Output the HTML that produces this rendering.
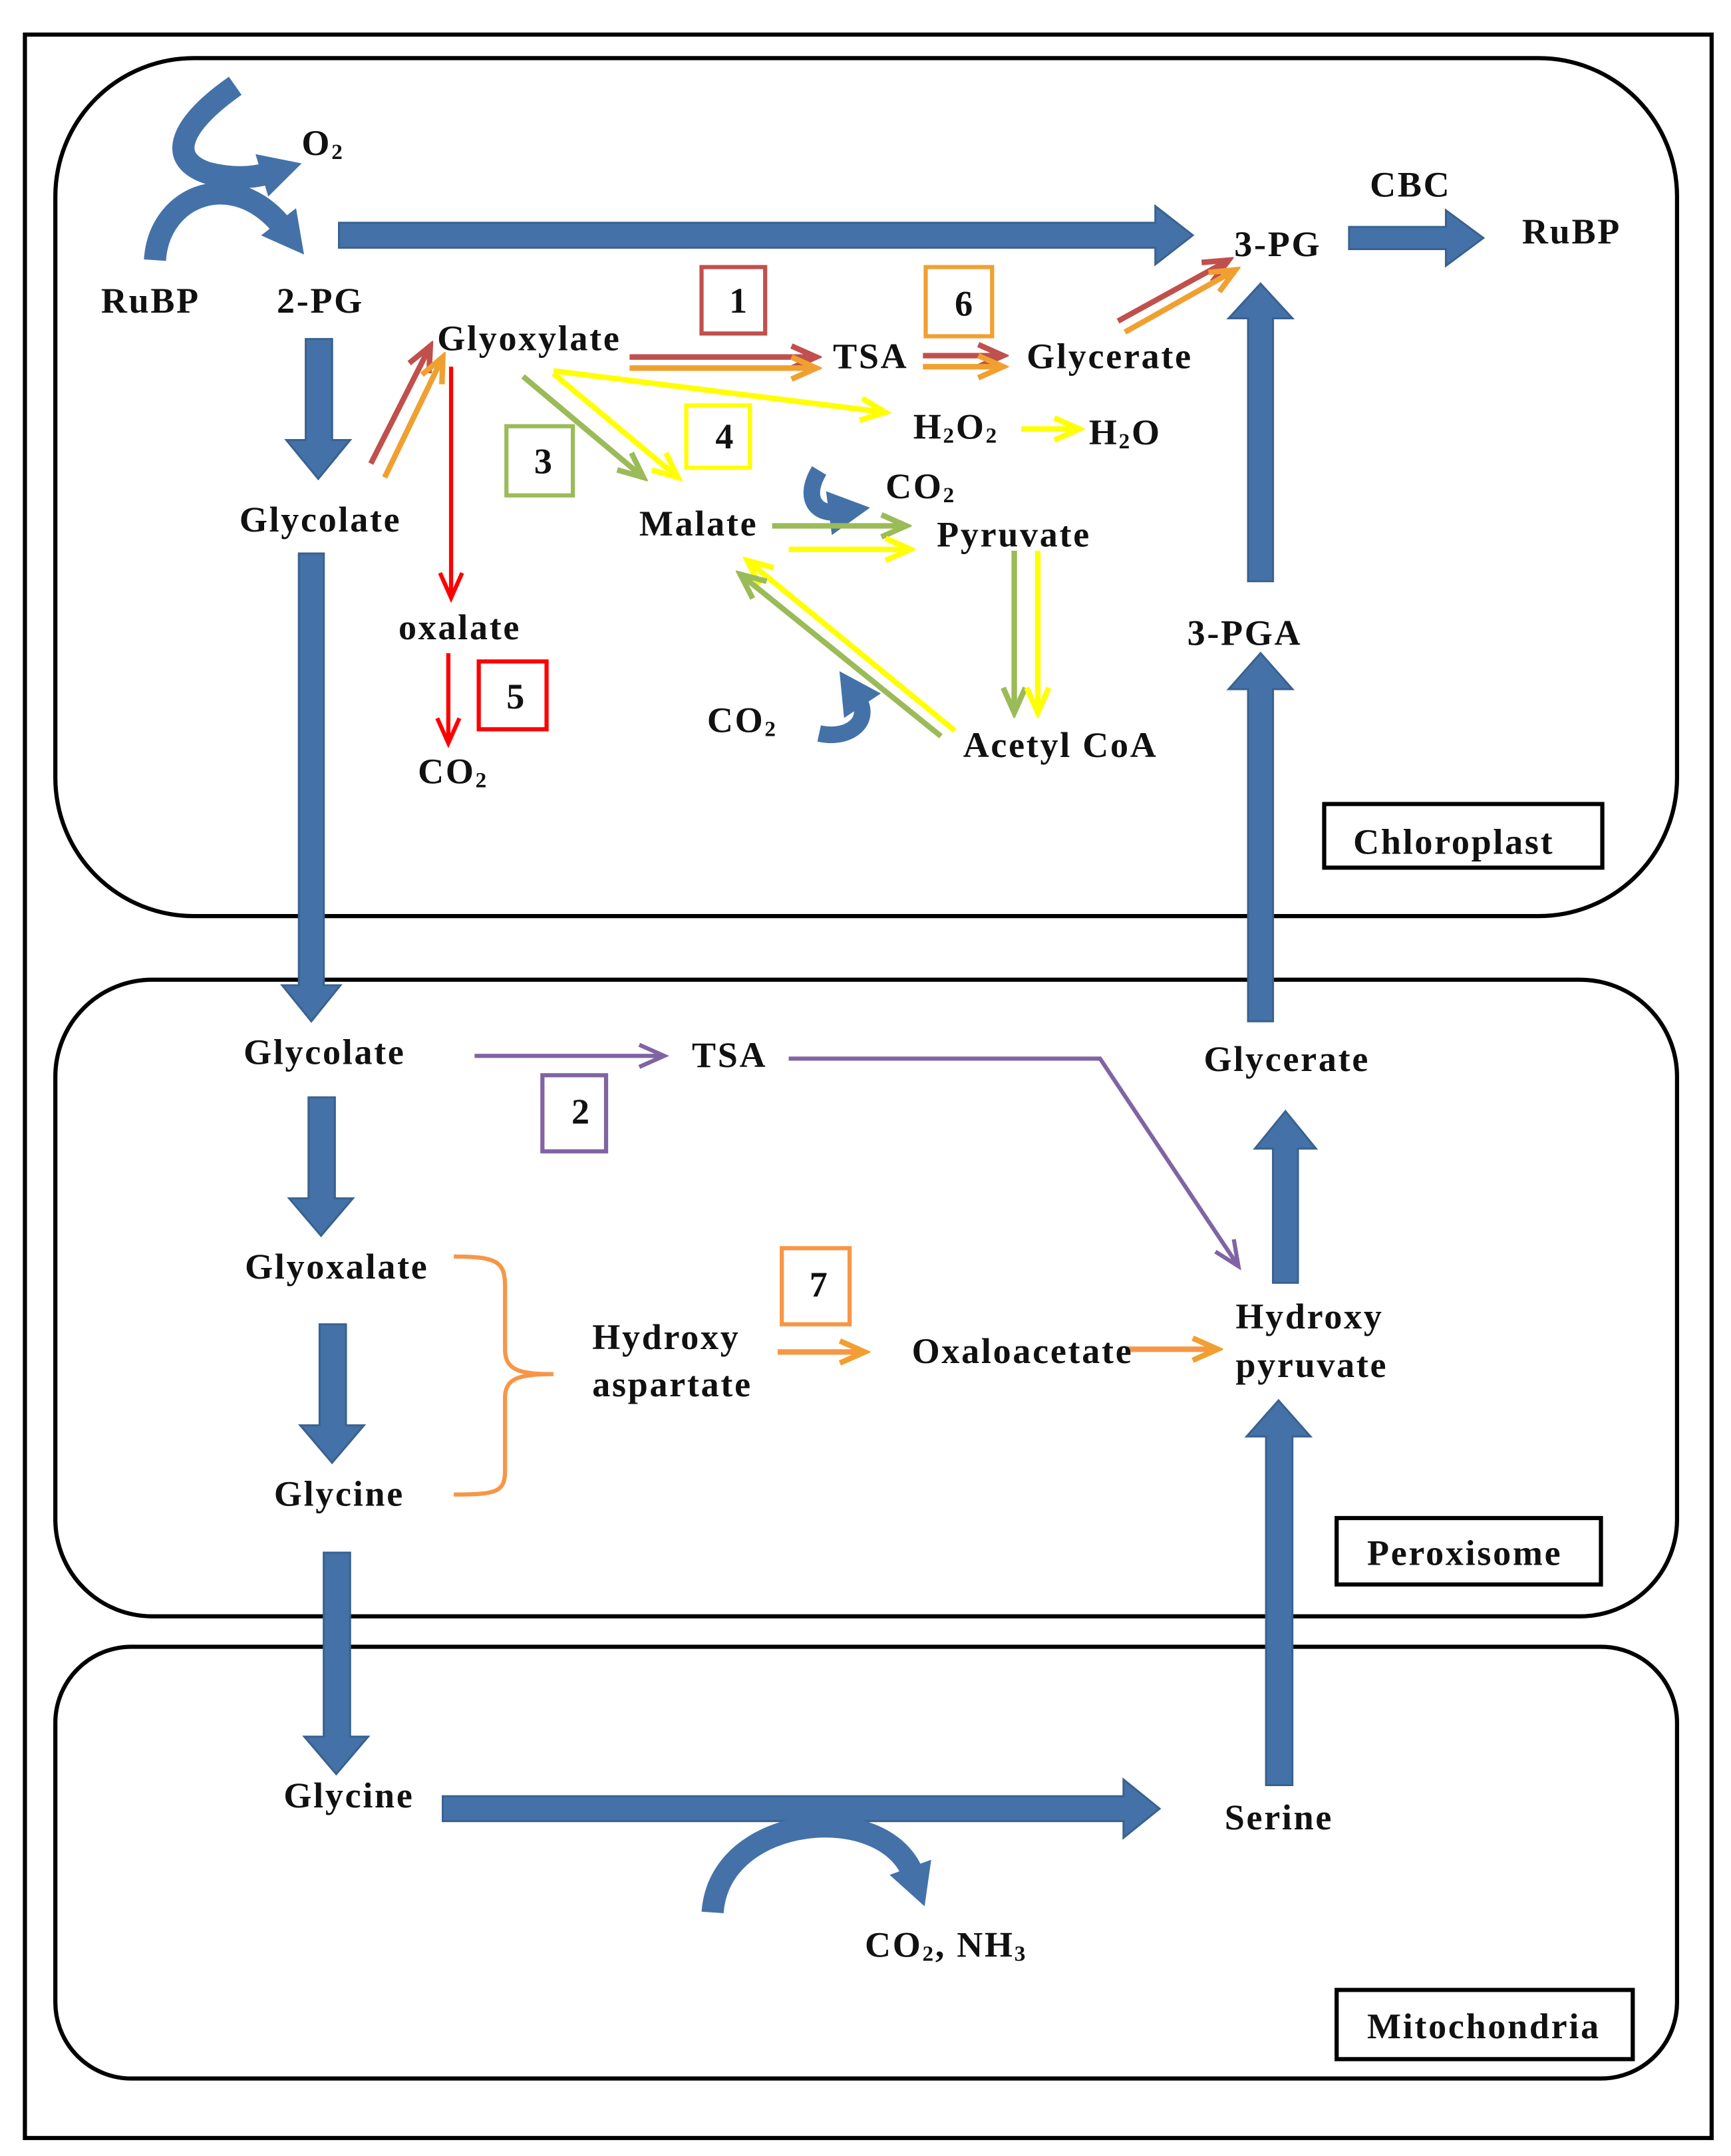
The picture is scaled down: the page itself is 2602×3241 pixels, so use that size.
<!DOCTYPE html>
<html><head><meta charset="utf-8"><style>
html,body{margin:0;padding:0;background:#fff;}
svg{display:block;}
text{font-family:"Liberation Serif",serif;font-weight:bold;font-size:26px;letter-spacing:1.3px;fill:#111;}
</style></head><body>
<svg width="2602" height="3241" viewBox="0 0 1251 1558" preserveAspectRatio="none" xmlns="http://www.w3.org/2000/svg">
<defs>
<marker id="mbr" markerUnits="userSpaceOnUse" markerWidth="24" markerHeight="20" refX="20" refY="10" orient="auto"><path d="M2,2 L20,10 L2,18" fill="none" stroke="#c0504d" stroke-width="4"/></marker>
<marker id="mor" markerUnits="userSpaceOnUse" markerWidth="24" markerHeight="20" refX="20" refY="10" orient="auto"><path d="M2,2 L20,10 L2,18" fill="none" stroke="#f0a030" stroke-width="4"/></marker>
<marker id="myl" markerUnits="userSpaceOnUse" markerWidth="24" markerHeight="20" refX="20" refY="10" orient="auto"><path d="M2,2 L20,10 L2,18" fill="none" stroke="#ffff00" stroke-width="4"/></marker>
<marker id="mgr" markerUnits="userSpaceOnUse" markerWidth="24" markerHeight="20" refX="20" refY="10" orient="auto"><path d="M2,2 L20,10 L2,18" fill="none" stroke="#9bbb59" stroke-width="4"/></marker>
<marker id="mpu" markerUnits="userSpaceOnUse" markerWidth="24" markerHeight="20" refX="20" refY="10" orient="auto"><path d="M2,2 L20,10 L2,18" fill="none" stroke="#8064a2" stroke-width="3"/></marker>
<marker id="mrd" markerUnits="userSpaceOnUse" markerWidth="24" markerHeight="20" refX="20" refY="10" orient="auto"><path d="M2,2 L20,10 L2,18" fill="none" stroke="#ff0000" stroke-width="3"/></marker>
<marker id="mbl" markerUnits="userSpaceOnUse" markerWidth="40" markerHeight="40" refX="6" refY="20" orient="auto"><path d="M0,4 L30,20 L0,36 Z" fill="#4472a8"/></marker>
</defs>
<rect x="18" y="25" width="1219" height="1520" fill="none" stroke="#000" stroke-width="3"/>
<rect x="40" y="42" width="1172" height="620" rx="100" fill="none" stroke="#000" stroke-width="3"/>
<rect x="40" y="708" width="1172" height="460" rx="70" fill="none" stroke="#000" stroke-width="3"/>
<rect x="40" y="1190" width="1172" height="312" rx="55" fill="none" stroke="#000" stroke-width="3"/>
<rect x="957" y="581" width="201" height="46" fill="#fff" stroke="#000" stroke-width="3"/>
<rect x="966" y="1097" width="191" height="48" fill="#fff" stroke="#000" stroke-width="3"/>
<rect x="966" y="1438" width="214" height="50" fill="#fff" stroke="#000" stroke-width="3"/>
<text x="978" y="617">Chloroplast</text>
<text x="988" y="1131">Peroxisome</text>
<text x="988" y="1473">Mitochondria</text>

<g fill="#4472a8" stroke="#3a6290" stroke-width="1.5">
<polygon points="245,161 835,161 835,149 862,170 835,191 835,179 245,179"/>
<polygon points="221,245 240,245 240,318 253,318 230,346 207,318 221,318"/>
<polygon points="216,400 234,400 234,712 246,712 225,738 204,712 216,712"/>
<polygon points="223,793 242,793 242,866 255,866 232,893 209,866 223,866"/>
<polygon points="231,957 250,957 250,1030 263,1030 240,1057 217,1030 231,1030"/>
<polygon points="234,1122 253,1122 253,1255 266,1255 243,1282 220,1255 234,1255"/>
<polygon points="320,1298 812,1298 812,1286 838,1307 812,1328 812,1316 320,1316"/>
<polygon points="915,1290 934,1290 934,1038 947,1038 924,1012 901,1038 915,1038"/>
<polygon points="920,927 938,927 938,830 951,830 929,803 907,830 920,830"/>
<polygon points="902,738 920,738 920,498 934,498 911,472 888,498 902,498"/>
<polygon points="902,420 920,420 920,230 934,230 911,205 888,230 902,230"/>
<polygon points="975,164 1045,164 1045,152 1072,172 1045,192 1045,180 975,180"/>
</g>
<g fill="none" stroke="#4472a8" stroke-width="16">
<path d="M112,188 C115,140 170,120 205,165" marker-end="url(#mbl)"/>
<path d="M170,62 C130,90 120,115 150,125 C170,130 185,128 195,125" marker-end="url(#mbl)"/>
<path d="M515,1382 C520,1310 640,1300 660,1355" marker-end="url(#mbl)"/>
<path d="M592,340 C580,360 590,372 605,370" stroke-width="12" marker-end="url(#mbl)"/>
<path d="M592,530 C615,535 630,520 620,505" stroke-width="12" marker-end="url(#mbl)"/>
</g>

<g fill="none" stroke-width="4">
<line x1="455" y1="258" x2="590" y2="258" stroke="#c0504d" marker-end="url(#mbr)"/>
<line x1="455" y1="266" x2="590" y2="266" stroke="#f0a030" marker-end="url(#mor)"/>
<line x1="667" y1="257" x2="725" y2="257" stroke="#c0504d" marker-end="url(#mbr)"/>
<line x1="667" y1="265" x2="725" y2="265" stroke="#f0a030" marker-end="url(#mor)"/>
<line x1="808" y1="232" x2="888" y2="188" stroke="#c0504d" marker-end="url(#mbr)"/>
<line x1="813" y1="240" x2="893" y2="195" stroke="#f0a030" marker-end="url(#mor)"/>
<line x1="268" y1="335" x2="311" y2="250" stroke="#c0504d" marker-end="url(#mbr)"/>
<line x1="278" y1="345" x2="320" y2="258" stroke="#f0a030" marker-end="url(#mor)"/>
<line x1="400" y1="268" x2="640" y2="298" stroke="#ffff00" marker-end="url(#myl)"/>
<line x1="400" y1="270" x2="490" y2="345" stroke="#ffff00" marker-end="url(#myl)"/>
<line x1="378" y1="272" x2="465" y2="345" stroke="#9bbb59" marker-end="url(#mgr)"/>
<line x1="738" y1="310" x2="780" y2="310" stroke="#ffff00" marker-end="url(#myl)"/>
<line x1="558" y1="380" x2="655" y2="380" stroke="#9bbb59" marker-end="url(#mgr)"/>
<line x1="570" y1="397" x2="658" y2="397" stroke="#ffff00" marker-end="url(#myl)"/>
<line x1="733" y1="398" x2="733" y2="515" stroke="#9bbb59" marker-end="url(#mgr)"/>
<line x1="750" y1="398" x2="750" y2="515" stroke="#ffff00" marker-end="url(#myl)"/>
<line x1="690" y1="528" x2="540" y2="405" stroke="#ffff00" marker-end="url(#myl)"/>
<line x1="680" y1="532" x2="535" y2="415" stroke="#9bbb59" marker-end="url(#mgr)"/>
<line x1="326" y1="265" x2="326" y2="432" stroke="#ff0000" stroke-width="3" marker-end="url(#mrd)"/>
<line x1="324" y1="472" x2="324" y2="537" stroke="#ff0000" stroke-width="3" marker-end="url(#mrd)"/>
<line x1="343" y1="763" x2="480" y2="763" stroke="#8064a2" stroke-width="3" marker-end="url(#mpu)"/>
<polyline points="570,765 795,765 895,915" stroke="#8064a2" stroke-width="3" marker-end="url(#mpu)"/>
<line x1="562" y1="977" x2="625" y2="977" stroke="#f79646" marker-end="url(#mor)"/>
<line x1="815" y1="975" x2="880" y2="975" stroke="#f79646" marker-end="url(#mor)"/>
<path d="M328,908 C360,908 365,912 365,930 L365,975 C365,990 375,993 400,993 C375,993 365,996 365,1010 L365,1062 C365,1078 360,1080 328,1080" stroke="#f79646" stroke-width="3"/>
</g>

<g fill="none" stroke-width="3">
<rect x="507" y="193" width="46" height="48" stroke="#c0504d"/>
<rect x="669" y="193" width="48" height="50" stroke="#f0a030"/>
<rect x="496" y="293" width="46" height="45" stroke="#ffff00"/>
<rect x="366" y="308" width="48" height="50" stroke="#9bbb59"/>
<rect x="346" y="478" width="49" height="49" stroke="#ff0000"/>
<rect x="392" y="777" width="46" height="55" stroke="#8064a2"/>
<rect x="565" y="902" width="49" height="55" stroke="#f79646"/>
</g>
<text x="527" y="226">1</text><text x="690" y="228">6</text><text x="517" y="324">4</text>
<text x="386" y="342">3</text><text x="366" y="512">5</text><text x="413" y="812">2</text><text x="585" y="937">7</text>

<text x="218" y="112">O<tspan font-size="16" dy="3">2</tspan></text>
<text x="73" y="226">RuBP</text>
<text x="200" y="226">2-PG</text>
<text x="316" y="253">Glyoxylate</text>
<text x="602" y="266">TSA</text>
<text x="742" y="266">Glycerate</text>
<text x="892" y="185">3-PG</text>
<text x="990" y="142">CBC</text>
<text x="1100" y="176">RuBP</text>
<text x="660" y="317">H<tspan font-size="16" dy="3">2</tspan><tspan dy="-3">O</tspan><tspan font-size="16" dy="3">2</tspan></text>
<text x="787" y="321">H<tspan font-size="16" dy="3">2</tspan><tspan dy="-3">O</tspan></text>
<text x="640" y="360">CO<tspan font-size="16" dy="3">2</tspan></text>
<text x="462" y="387">Malate</text>
<text x="677" y="395">Pyruvate</text>
<text x="173" y="384">Glycolate</text>
<text x="288" y="462">oxalate</text>
<text x="302" y="566">CO<tspan font-size="16" dy="3">2</tspan></text>
<text x="511" y="529">CO<tspan font-size="16" dy="3">2</tspan></text>
<text x="696" y="547">Acetyl CoA</text>
<text x="858" y="466">3-PGA</text>
<text x="176" y="769">Glycolate</text>
<text x="500" y="771">TSA</text>
<text x="870" y="774">Glycerate</text>
<text x="177" y="924">Glyoxalate</text>
<text x="428" y="975">Hydroxy</text>
<text x="428" y="1009">aspartate</text>
<text x="659" y="985">Oxaloacetate</text>
<text x="893" y="960">Hydroxy</text>
<text x="893" y="995">pyruvate</text>
<text x="198" y="1088">Glycine</text>
<text x="205" y="1306">Glycine</text>
<text x="885" y="1322">Serine</text>
<text x="625" y="1414">CO<tspan font-size="16" dy="3">2</tspan><tspan dy="-3">, NH</tspan><tspan font-size="16" dy="3">3</tspan></text>
</svg>
</body></html>
